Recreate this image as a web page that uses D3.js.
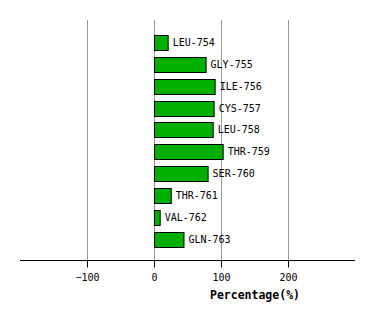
<!DOCTYPE html>
<html>
<head>
<meta charset="utf-8">
<script src="https://cdn.jsdelivr.net/npm/d3@7"></script>
<style>
  body { margin: 0; background: #fff; }
  text { font-family: "DejaVu Sans Mono", monospace; }
</style>
</head>
<body>
<div id="canvas"></div>
<script>
const residues = ["LEU-754", "GLY-755", "ILE-756", "CYS-757", "LEU-758",
                  "THR-759", "SER-760", "THR-761", "VAL-762", "GLN-763"];
const percents = [20.4, 77, 90.5, 89, 87.6, 102.5, 80, 25, 8.5, 44];
const tickValues = [-100, 0, 100, 200];

const width = 374;
const height = 320;

const svg = d3.select("#canvas").append("svg")
    .attr("width", width)
    .attr("height", height);

const x = d3.scaleLinear()
    .domain([-200, 300])
    .range([20, 355]);

const y = d3.scaleBand()
    .domain(residues)
    .range([31.6, 250])
    .paddingInner(0.31)
    .paddingOuter(0.155);

const axisY = 260;

// grid lines
svg.append("g")
    .selectAll("line")
    .data(tickValues)
    .enter().append("line")
    .attr("x1", d => Math.round(x(d)) + 0.5)
    .attr("x2", d => Math.round(x(d)) + 0.5)
    .attr("y1", 20)
    .attr("y2", axisY)
    .attr("stroke", "#999")
    .attr("stroke-width", 1);

// bars
const data = residues.map((r, i) => ({ name: r, value: percents[i] }));

svg.append("g")
    .selectAll("rect")
    .data(data)
    .enter().append("rect")
    .attr("x", x(0) + 0.5)
    .attr("y", d => Math.round(y(d.name)) + 0.5)
    .attr("width", d => x(d.value) - x(0))
    .attr("height", Math.round(y.bandwidth()))
    .style("fill", "#00b000")
    .attr("stroke", "black")
    .attr("stroke-width", 1);

svg.append("g")
    .selectAll("text")
    .data(data)
    .enter().append("text")
    .attr("x", d => x(d.value) + 5)
    .attr("y", d => y(d.name) + y.bandwidth() / 2)
    .attr("dy", "0.35em")
    .style("font-size", "10px")
    .attr("fill", "#000")
    .text(d => d.name);

// x axis
const axis = svg.append("g")
    .attr("transform", `translate(0, ${axisY + 0.5})`)
    .call(d3.axisBottom(x).tickValues(tickValues).tickSize(7).tickSizeOuter(0).tickFormat(d3.format("d")));

axis.select(".domain").attr("stroke", "black").attr("d", "M20,0H355");
axis.selectAll(".tick line").attr("stroke", "black");
axis.selectAll(".tick text")
    .attr("y", 13)
    .style("font-family", "DejaVu Sans Mono, monospace")
    .style("font-size", "10px")
    .attr("fill", "#000")
    .text(d => d === -100 ? "\u2212100" : d);

svg.append("text")
    .attr("x", 255)
    .attr("y", 299)
    .attr("text-anchor", "middle")
    .style("font-size", "11.5px")
    .style("font-weight", "bold")
    .text("Percentage(%)");
</script>
</body>
</html>
